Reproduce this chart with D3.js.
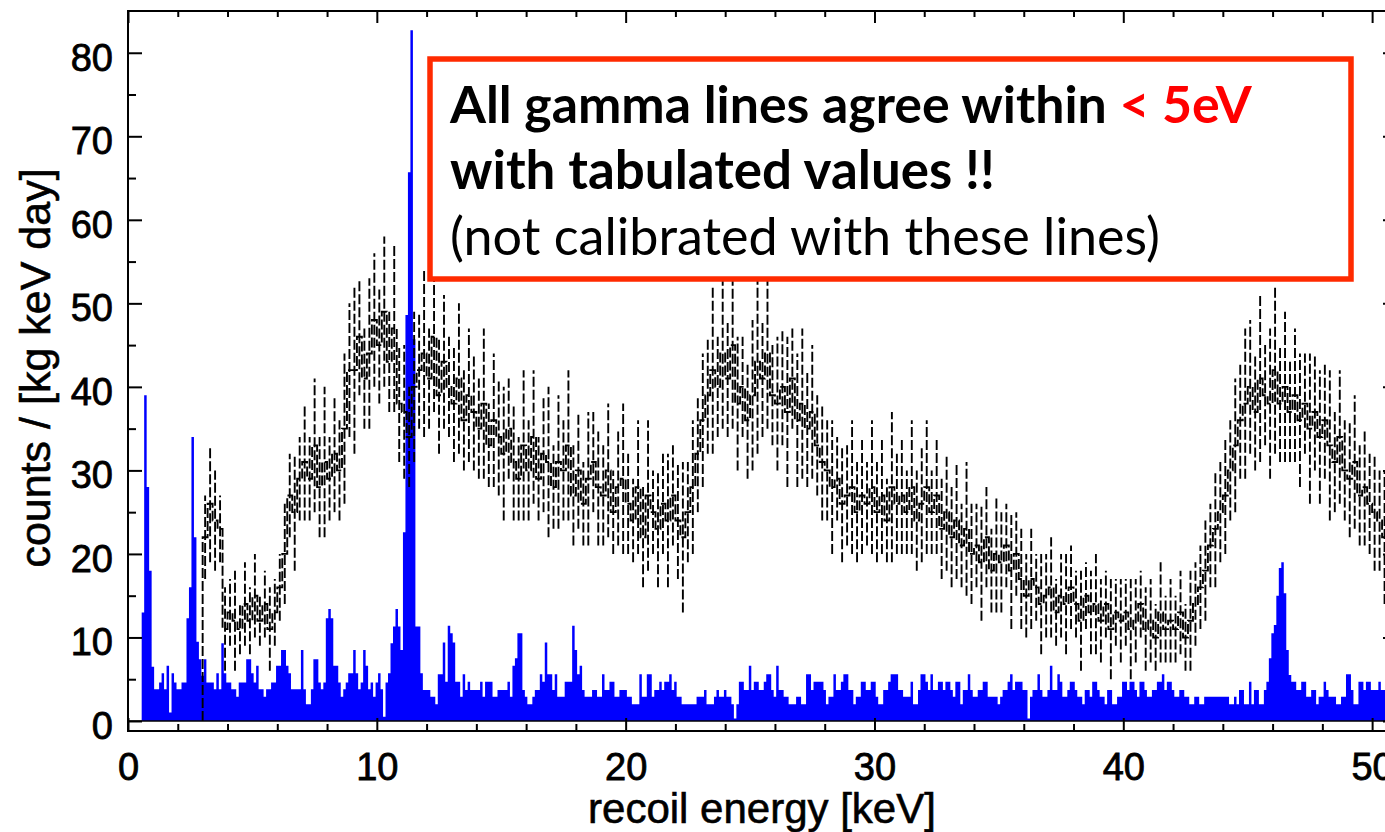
<!DOCTYPE html>
<html><head><meta charset="utf-8">
<script src="https://cdn.jsdelivr.net/npm/d3@7"></script>
<style>body{margin:0;background:#fff;} svg{display:block;}</style>
</head><body>
<svg id="c" width="1385" height="832"></svg>
<script>
// ---------------- data ----------------
const blueStart = 0.55;   // keV, left edge of first bin
const blueBinWidth = 0.1; // keV
const blueValues = [
13,39,28,18,6.5,3.8,3.8,4.6,5.7,3.8,
6.6,1,5.7,4.6,3.8,3.8,4.6,4.6,12.3,16,
34,22,9.5,7.4,5.4,7.4,4.6,4.6,4.6,3.8,
5.7,3.8,9.3,5.7,4.6,4.6,3.8,3.8,2.9,4.6,
4.6,4.6,7.4,7.4,5.7,4.6,6.6,3.8,3.8,2.9,
3.8,3.8,4.6,4.6,6.6,6.6,8.5,8.5,6.6,5.7,
3.8,3.8,3.8,3.8,8.5,3.8,2,2,3.8,7.4,
7.4,4.6,3.8,4.6,12.3,13.4,12.3,6.6,6.6,4.6,
2.9,3.8,4.6,5.7,5.7,8.5,5.7,3.8,4.6,8.5,
6.6,3.8,4.6,2.9,4.6,5.7,3.8,0.5,4.6,5.7,
9.3,11.3,13.4,11.3,8.5,22.6,48.6,65.7,82.7,45.7,
11.3,11.3,5.7,3.7,3.7,3.7,2.9,2.9,2,5.6,
5.6,9.4,4.7,11.4,10.5,9.4,4.7,4.7,2.9,5.6,
3.7,4.7,3.7,3.7,3.7,3.7,4.7,2.9,4.7,4.7,
4.7,2.9,2.9,3.7,3.7,3.7,3.7,4.7,2.9,6.6,
7.5,10.5,10.5,3.7,2.9,2,2,2.9,3.7,3.7,
5.6,4.7,9.4,5.6,5.6,3.7,5.6,2.9,2.9,2.9,
4.7,4.7,4.7,11.4,8.5,5.6,6.6,3.7,2.9,2.9,
2.9,3.7,3.7,2.9,2.9,5.6,3.7,3.7,4.7,4.7,
2.9,2.9,3.7,3.7,3.7,2.9,2.9,2,2,2,
5.6,2.9,2.9,5.6,5.6,2.9,3.7,3.7,4.7,3.7,
4.7,4.7,5.6,3.7,4.7,2.9,2.9,2,2,2,
2,2,2,2.9,2.9,2.9,3.7,2,2,2,
2.9,3.7,2.9,2.9,3.7,2.9,2.9,2,0.3,2,
4.7,4.7,3.7,3.7,6.6,3.7,4.7,4.7,3.7,3.7,
4.7,5.6,5.6,3.7,2.9,6.6,3.7,3.7,2.9,2.9,
2,2,2,2.9,2.9,2,2,5.6,5.6,3.7,
4.7,4.7,4.7,4.7,3.7,2,2.9,2.9,5.6,3.7,
3.7,4.7,5.6,5.6,3.7,3.7,2,2.9,2.9,4.7,
4.7,3.7,3.7,4.7,4.7,2.9,2,2,3.7,3.7,
4.7,5.6,5.6,5.6,3.7,3.7,2.9,2.9,2.9,4.7,
2,2,3.7,5.6,5.6,4.7,3.7,5.6,3.7,3.7,
4.7,4.7,3.7,4.7,4.7,3.7,2.9,4.7,4.7,2,
3.7,3.7,5.6,3.7,2.9,2.9,3.7,3.7,4.7,4.7,
2.9,2.9,2.9,2.9,2,2.9,3.7,3.7,4.7,5.6,
3.7,4.7,4.7,4.7,3.7,3.7,0.3,2.9,3.7,3.7,
5.6,3.7,2.9,2.9,3.7,6.6,3.7,3.7,5.6,4.7,
2.9,2.9,3.7,4.7,4.7,3.7,2.9,2.9,2,3.7,
3.7,2.9,4.7,4.7,3.7,2.9,2.9,2,3.7,3.7,
2,2,2.9,2.9,4.7,4.7,3.7,4.7,4.7,3.7,
2.9,4.7,4.7,3.7,2.9,2.9,3.7,3.7,4.7,4.7,
5.6,3.7,4.7,4.7,3.7,2.9,2.9,3.7,3.7,2.9,
2.9,2,2,2.9,2.9,2,2,2.9,2.9,2.9,
2.9,2.9,2.9,2.9,2.9,2.9,2.9,2,2,2.9,
2,3.7,3.7,2,2,4.7,2,3.7,3.7,2,
2,3.7,4.7,7.5,10.5,11.5,15,18.3,19,15.3,
8.5,5.5,4.7,4.7,3.7,3.7,4.7,4.7,2.9,2.9,
3.7,3.7,2,2.9,2.9,4.7,3.7,2.9,2.9,2.9,
2,2,2.9,2.9,5.6,5.6,3.7,2,2,4.7,
4.7,3.7,4.7,4.7,3.7,3.7,3.7,4.7,3.7,3.7
];

const blackStart = 3.0;    // keV
const blackBinWidth = 0.2; // keV
const blackValues = [
22,26,24,23,11, 13,12,11,14,12, 15,12,14,11,13, 16,20,27,25,29,
31,29,33,28,31, 29,32,30,35,42, 42,46,41,44,48, 45,49,43,47,38,
37,34,40,42,44, 41,46,39,43,40, 38,41,36,39,37, 35,38,33,36,34,
32,35,31,29,33, 30,34,29,32,31, 28,31,30,33,27, 30,26,29,31,28,
27,30,25,28,29, 26,24,28,22,27, 25,23,26,24,27, 24,22,25,28,32,
36,39,42,40,44, 41,45,38,40,36, 39,43,41,44,39, 38,40,37,41,36,
38,35,37,33,31, 30,28,29,26,27, 28,25,27,26,28, 25,27,24,28,26,
27,25,28,24,26, 28,25,27,23,25, 22,24,21,23,20, 21,19,22,18,20,
19,21,18,20,17, 15,17,16,14,15, 16,13,15,14,16, 14,12,15,13,14,
12,14,11,13,12, 13,11,12,14,11, 12,10,13,11,12, 11,13,10,12,14,
16,18,21,23,25, 27,30,33,36,38, 40,37,41,39,38, 42,38,40,37,39,
36,38,35,37,34, 36,33,31,34,30, 29,31,27,28,26, 25,24,22
];
const blackErrors = [
5,7,6,4,5, 4,6,3,5,4, 5,3,4,5,4, 4,6,5,7,5,
7,5,8,6,9, 5,7,6,9,8, 10,7,6,9,8, 7,9,6,10,7,
8,6,9,7,10, 6,9,7,8,6, 7,9,6,8,7, 6,9,5,8,7,
8,6,7,5,9, 6,8,5,7,9, 5,8,6,9,6, 7,5,8,6,7,
6,8,5,7,9, 6,5,8,6,9, 5,7,6,8,6, 7,9,6,8,7,
8,7,10,6,9, 7,10,8,6,7, 9,11,7,9,6, 8,7,9,6,8,
9,7,8,6,7, 6,8,5,7,6, 8,6,7,5,8, 6,7,5,9,6,
7,5,8,6,7, 8,5,7,6,7, 6,7,5,8,6, 5,7,6,5,7,
6,5,7,5,6, 5,6,4,6,5, 6,4,5,6,5, 4,6,4,5,6,
5,4,6,4,5, 4,6,5,4,5, 5,4,6,4,5, 4,5,4,6,5,
5,6,5,7,6, 7,6,8,7,9, 8,7,10,6,9, 10,7,9,6,8,
8,6,9,7,8, 7,9,6,8,6, 7,8,6,7,6, 7,6,8
];

const xMajorTicks = [0,10,20,30,40,50];
const xMinorTicks = [2,4,6,8,12,14,16,18,22,24,26,28,32,34,36,38,42,44,46,48];
const yMajorTicks = [0,10,20,30,40,50,60,70,80];
const yMinorTicks = [5,15,25,35,45,55,65,75];

const xTitle = "recoil energy [keV]";
const yTitle = "counts / [kg keV day]";
const boxLine1 = "All gamma lines agree within ";
const boxLine1Red = "< 5eV";
const boxLine2 = "with tabulated values !!";
const boxLine3 = "(not calibrated with these lines)";

// ---------------- layout ----------------
const svg = d3.select("#c");
const L = 128, R = 1397, T = 11, B = 731;
const x = d3.scaleLinear().domain([0, 51]).range([L, R]);
const y = d3.scaleLinear().domain([-1.2, 85]).range([B, T]);

svg.append("rect").attr("width",1385).attr("height",832).attr("fill","#fff");

const defs = svg.append("defs");
defs.append("clipPath").attr("id","plotclip").append("rect")
  .attr("x",L).attr("y",T).attr("width",R-L).attr("height",B-T);

const plot = svg.append("g").attr("clip-path","url(#plotclip)");

// blue histogram
const bluePts = blueValues.map((v,i)=>[blueStart + i*blueBinWidth, v]);
bluePts.push([blueStart + blueValues.length*blueBinWidth, blueValues[blueValues.length-1]]);
plot.append("path")
  .datum(bluePts)
  .attr("fill","#0000ff")
  .attr("d", d3.area().curve(d3.curveStepAfter)
    .x(d=>x(d[0])).y0(y(0)).y1(d=>y(d[1])));

// zero line
plot.append("line").attr("x1",L).attr("x2",R).attr("y1",y(0)).attr("y2",y(0))
  .attr("stroke","#000").attr("stroke-width",1.5);

// black dashed histogram with error bars
const blackPts = [[blackStart, 0]].concat(blackValues.map((v,i)=>[blackStart + i*blackBinWidth, v]));
blackPts.push([blackStart + blackValues.length*blackBinWidth, blackValues[blackValues.length-1]]);
plot.append("path")
  .datum(blackPts)
  .attr("fill","none").attr("stroke","#000").attr("stroke-width",1.9)
  .attr("stroke-dasharray","10,3")
  .attr("d", d3.line().curve(d3.curveStepAfter).x(d=>x(d[0])).y(d=>y(d[1])));

plot.append("g").selectAll("line")
  .data(blackValues.map((v,i)=>({c: blackStart + (i+0.5)*blackBinWidth, v, e: blackErrors[i]})))
  .join("line")
  .attr("x1",d=>x(d.c)).attr("x2",d=>x(d.c))
  .attr("y1",d=>y(d.v - d.e)).attr("y2",d=>y(d.v + d.e))
  .attr("stroke","#000").attr("stroke-width",1.9).attr("stroke-dasharray","10,3");

// ---------------- axes ----------------
const axisFont = "'Liberation Sans', Arial, Helvetica, sans-serif";
function styleAxis(g){
  g.select(".domain").remove();
  g.selectAll(".tick line").attr("stroke","#000").attr("stroke-width",2);
  g.selectAll("text").attr("font-family",axisFont).attr("font-size",38).attr("fill","#000")
    .attr("stroke","#000").attr("stroke-width",0.8);
}
svg.append("g").attr("transform",`translate(${L},0)`)
  .call(d3.axisLeft(y).tickValues(yMajorTicks).tickSize(-14).tickPadding(15).tickFormat(d3.format("d")))
  .call(styleAxis)
  .call(g=>g.selectAll("text").attr("dy","0.46em"));
svg.append("g").attr("transform",`translate(${L},0)`)
  .call(d3.axisLeft(y).tickValues(yMinorTicks).tickSize(-8).tickFormat(""))
  .call(styleAxis);
svg.append("g").attr("transform",`translate(${R},0)`)
  .call(d3.axisRight(y).tickValues(yMajorTicks).tickSize(-14).tickFormat(""))
  .call(styleAxis);
svg.append("g").attr("transform",`translate(${R},0)`)
  .call(d3.axisRight(y).tickValues(yMinorTicks).tickSize(-8).tickFormat(""))
  .call(styleAxis);
svg.append("g").attr("transform",`translate(0,${B})`)
  .call(d3.axisBottom(x).tickValues(xMajorTicks).tickSize(-13).tickPadding(22).tickFormat(d3.format("d")))
  .call(styleAxis);
svg.append("g").attr("transform",`translate(0,${B})`)
  .call(d3.axisBottom(x).tickValues(xMinorTicks).tickSize(-7).tickFormat(""))
  .call(styleAxis);
svg.append("g").attr("transform",`translate(0,${T})`)
  .call(d3.axisTop(x).tickValues(xMajorTicks).tickSize(-12).tickFormat(""))
  .call(styleAxis);
svg.append("g").attr("transform",`translate(0,${T})`)
  .call(d3.axisTop(x).tickValues(xMinorTicks).tickSize(-6).tickFormat(""))
  .call(styleAxis);

// frame
svg.append("path")
  .attr("d",`M${R},${T}H${L}V${B}H${R}`)
  .attr("fill","none").attr("stroke","#000").attr("stroke-width",2);

// titles
svg.append("text").attr("x",762).attr("y",823).attr("text-anchor","middle")
  .attr("font-family",axisFont).attr("font-size",42).attr("fill","#000")
  .attr("stroke","#000").attr("stroke-width",0.6).text(xTitle);
svg.append("text").attr("transform","translate(50,368) rotate(-90)").attr("text-anchor","middle")
  .attr("font-family",axisFont).attr("font-size",43).attr("fill","#000")
  .attr("stroke","#000").attr("stroke-width",0.6).text(yTitle);

// ---------------- annotation box ----------------
svg.append("rect").attr("x",430).attr("y",59).attr("width",921).attr("height",220)
  .attr("fill","#fff").attr("stroke","#ff2a00").attr("stroke-width",5.5);

const boxFont = "Lato, 'Open Sans', sans-serif";
function fitLine(sel, target){
  const w = sel.node().getComputedTextLength();
  const fs = parseFloat(sel.attr("font-size"));
  sel.attr("font-size", fs * target / w);
}
const t1 = svg.append("text").attr("x",450).attr("y",123)
  .attr("font-family",boxFont).attr("font-weight",700).attr("font-size",46).attr("fill","#000");
t1.append("tspan").text(boxLine1);
t1.append("tspan").attr("fill","#ff0000").text(boxLine1Red);
fitLine(t1, 802);
const t2 = svg.append("text").attr("x",450).attr("y",189)
  .attr("font-family",boxFont).attr("font-weight",700).attr("font-size",46).attr("fill","#000")
  .text(boxLine2);
fitLine(t2, 545);
const t3 = svg.append("text").attr("x",450).attr("y",255)
  .attr("font-family",boxFont).attr("font-weight",400).attr("font-size",46).attr("fill","#000")
  .text(boxLine3);
fitLine(t3, 710);
</script>
</body></html>
